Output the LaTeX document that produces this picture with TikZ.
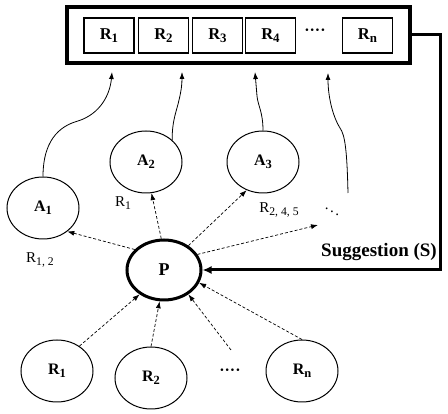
\documentclass[tikz,border=0pt]{standalone}
\usepackage{fontspec}
\setmainfont{Liberation Serif}
\usetikzlibrary{shapes.geometric,arrows.meta}
\newcommand\sbs[1]{\raisebox{-0.45ex}{\scalebox{0.78}{#1}}}
\begin{document}
\begin{tikzpicture}[x=1pt,y=-1pt,
  rbox/.style={draw,line width=1.2pt,minimum width=50pt,minimum height=35pt,font=\fontsize{16.5}{18}\selectfont\bfseries,inner sep=0pt},
  oval/.style={draw,ellipse,line width=1pt,minimum width=72pt,minimum height=62pt,font=\fontsize{16}{18}\selectfont\bfseries,inner sep=0pt},
  lbl/.style={font=\fontsize{15}{17}\selectfont,inner sep=0pt},
  dots/.style={font=\fontsize{16}{18}\selectfont\bfseries,inner sep=0pt},
  dasharrow/.style={densely dashed,-{Latex[length=7pt,width=5pt]},line width=0.7pt},
  curvearrow/.style={-{Latex[length=7pt,width=5pt]},line width=0.8pt},
]
\useasboundingbox (0,0) rectangle (448,414);
% top container
\node[draw,line width=3.5pt,minimum width=343pt,minimum height=56pt,inner sep=0pt] (box) at (238.5,35) {};
\node[rbox] (b1) at (109,35.5) {R\sbs{1}};
\node[rbox] (b2) at (163.5,35.5) {R\sbs{2}};
\node[rbox] (b3) at (217.5,35.5) {R\sbs{3}};
\node[rbox] (b4) at (270.5,35.5) {R\sbs{4}};
\node[dots] (bd) at (315,32) {····};
\node[rbox] (bn) at (367.5,35.5) {R\sbs{n}};
% arrow tips under container
\coordinate (t1) at (112,72);
\coordinate (t2) at (182,72);
\coordinate (t3) at (255,72);
\coordinate (t4) at (328,73);
% A nodes
\node[oval] (A1) at (43,208) {A\sbs{1}};
\node[oval] (A2) at (146,162) {A\sbs{2}};
\node[oval] (A3) at (263,162) {A\sbs{3}};
\coordinate (s4) at (348,193);
\node[inner sep=0pt,font=\fontsize{15}{17}\selectfont] (ad) at (332,209) {$\ddots$};
\coordinate (d2) at (318,225);
% labels
\node[lbl] (l1) at (123,203) {R\sbs{1}};
\node[lbl] (l2) at (279,210) {R\sbs{2, 4, 5}};
\node[lbl] (l3) at (40,260) {R\sbs{1, 2}};
\node[font=\fontsize{19}{21}\selectfont\bfseries,inner sep=0pt] (sg) at (379,252) {Suggestion (S)};
% P
\node[oval,line width=3pt,minimum width=74pt,minimum height=60pt,font=\fontsize{18}{20}\selectfont\bfseries] (P) at (164,270) {P};
% bottom R nodes
\node[oval] (R1) at (57,371) {R\sbs{1}};
\node[oval] (R2) at (151,378) {R\sbs{2}};
\node[dots] (rd) at (230,372) {····};
\coordinate (d1) at (231,350);
\node[oval] (Rn) at (302,371) {R\sbs{n}};
% curves to container
\draw[curvearrow] (A1.north) .. controls (43,150) and (52,128) .. (78,121) .. controls (100,114) and (110,95) .. (t1);
\draw[curvearrow] (A2.40) .. controls (172,120) and (177,110) .. (179,100) .. controls (181,92) and (182,85) .. (t2);
\draw[curvearrow] (A3.north) .. controls (263,112) and (258,106) .. (257,96) -- (t3);
\draw[curvearrow] (s4) .. controls (347,150) and (345,135) .. (340,128) .. controls (332,115) and (328,95) .. (t4);
% feedback
\coordinate (turn) at (440,35);
\draw[line width=3pt,-{Latex[length=9pt,width=8pt]}] (box.east) -- (turn) |- (P.east);
% dashed arrows from P
\draw[dasharrow] (P.145) -- (A1.316);
\draw[dasharrow] (P.95) -- (A2.280);
\draw[dasharrow] (P.45) -- (A3.240);
\draw[dasharrow] (P.25) -- (d2);
% dashed arrows to P
\draw[dasharrow] (R1.48) -- (P.225);
\draw[dasharrow] (R2.north) -- (P.262);
\draw[dasharrow] (d1) -- (P.315);
\draw[dasharrow] (Rn.north) -- (P.340);
\end{tikzpicture}
\end{document}
